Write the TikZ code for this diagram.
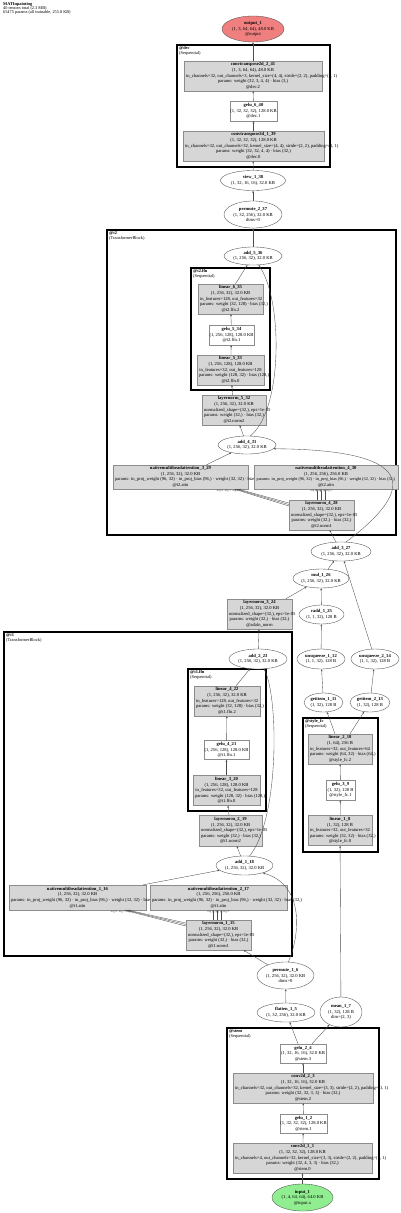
\documentclass[tikz,border=0pt]{standalone}
\usepackage{fontspec}
\setmainfont{Liberation Serif}
\usetikzlibrary{shapes.geometric,arrows.meta,calc}
\definecolor{coral}{HTML}{F08080}
\definecolor{lgreen}{HTML}{90EE90}
\definecolor{boxgray}{HTML}{D6D6D6}
\definecolor{bord}{HTML}{8C8C8C}
\definecolor{edgec}{HTML}{4D4D4D}
\newsavebox\ovbox
\def\curbw{100}
\newcommand\ov[1]{\sbox\ovbox{#1}\ifdim\wd\ovbox>\dimexpr\curbw pt-4pt\relax\makebox[\dimexpr\curbw pt-4pt\relax][l]{\usebox\ovbox}\else\usebox\ovbox\fi}
\newcommand\nd[7]{\def\curbw{#5}\node[#2,minimum width=#5pt,minimum height=#6pt] (#1) at (#3,#4) {};\node[lbl] (#1-t) at (#1.center) {#7};}
\newcommand\cl[7]{\node[clus,minimum width={#4pt-#2pt},minimum height={#5pt-#3pt}] (#1) at ({(#2+#4)/2},{(#3+#5)/2}) {};\node[clab] (#1-l) at ({#2+2},{#3+1.5}) {\textbf{#6}\\(#7)};}
\tikzset{
  lbl/.style={align=center,inner sep=0,font=\fontsize{4.6}{5.6}\selectfont},
  ell/.style={ellipse,draw=edgec,line width=0.35pt,fill=white,inner sep=0},
  gbox/.style={rectangle,draw=bord,line width=0.4pt,fill=boxgray,inner sep=0},
  wbox/.style={rectangle,draw=bord,line width=0.4pt,fill=white,inner sep=0},
  clus/.style={rectangle,draw=black,line width=1.3pt,fill=white,inner sep=0},
  clab/.style={anchor=north west,align=left,inner sep=0,font=\fontsize{4.4}{4.9}\selectfont},
  edge/.style={draw=edgec,line width=0.35pt,-{Stealth[length=2.2pt,width=1.8pt]}},
  elab/.style={inner sep=0,font=\fontsize{3}{3}\selectfont,text=edgec},
}
\begin{document}
\begin{tikzpicture}[x=1pt,y=-1pt]
\useasboundingbox (0,0) rectangle (400,1213);
\node[anchor=north west,align=left,inner sep=0,font=\fontsize{4.3}{4.4}\selectfont] (hdr) at (3,2) {\textbf{MATInpainting}\\40 tensors total (2.3 MB)\\65475 params (all trainable, 255.8 KB)};
% clusters
\cl{dec}{177}{45}{330}{167}{@dec}{Sequential}
\cl{t2}{107}{230}{396}{535}{@t2}{TransformerBlock}
\cl{t2ffn}{191}{268}{270}{390}{@t2.ffn}{Sequential}
\cl{t1}{4}{632}{292}{956}{@t1}{TransformerBlock}
\cl{t1ffn}{188}{669}{266}{811}{@t1.ffn}{Sequential}
\cl{sty}{303}{718}{378}{852}{@style\_fc}{Sequential}
\cl{stem}{227}{1028}{379}{1179}{@stem}{Sequential}
% nodes
\nd{out}{ell,fill=coral}{253}{29}{62}{26}{\textbf{output\_1}\\(1, 3, 64, 64), 48.0 KB\\@output}
\nd{conv41}{gbox}{253}{76}{138}{30}{\textbf{convtranspose2d\_2\_41}\\(1, 3, 64, 64), 48.0 KB\\\ov{in\_channels=32, out\_channels=3, kernel\_size=(4, 4), stride=(2, 2), padding=(1, 1)}\\params: weight (32, 3, 4, 4) · bias (3,)\\@dec.2}
\nd{gelu40}{wbox}{253.5}{111}{47}{20}{\textbf{gelu\_6\_40}\\(1, 32, 32, 32), 128.0 KB\\@dec.1}
\nd{conv39}{gbox}{253.5}{146}{141}{30}{\textbf{convtranspose2d\_1\_39}\\(1, 32, 32, 32), 128.0 KB\\\ov{in\_channels=32, out\_channels=32, kernel\_size=(4, 4), stride=(2, 2), padding=(1, 1)}\\params: weight (32, 32, 4, 4) · bias (32,)\\@dec.0}
\nd{view}{ell}{253}{180.5}{65}{20}{\textbf{view\_1\_38}\\(1, 32, 16, 16), 32.0 KB}
\nd{perm37}{ell}{253}{214.5}{58}{27}{\textbf{permute\_2\_37}\\(1, 32, 256), 32.0 KB\\dims=0}
\nd{add36}{ell}{253}{256}{58}{18}{\textbf{add\_5\_36}\\(1, 256, 32), 32.0 KB}
\nd{lin635}{gbox}{230.5}{299}{65}{30}{\textbf{linear\_6\_35}\\(1, 256, 32), 32.0 KB\\\ov{in\_features=128, out\_features=32}\\\ov{params: weight (32, 128) · bias (32,)}\\@t2.ffn.2}
\nd{gelu534}{wbox}{231.5}{335}{45}{20}{\textbf{gelu\_5\_34}\\(1, 256, 128), 128.0 KB\\@t2.ffn.1}
\nd{lin533}{gbox}{230.5}{370}{67}{30}{\textbf{linear\_5\_33}\\(1, 256, 128), 128.0 KB\\\ov{in\_features=32, out\_features=128}\\\ov{params: weight (128, 32) · bias (128,)}\\@t2.ffn.0}
\nd{ln532}{gbox}{234}{410}{64}{30}{\textbf{layernorm\_5\_32}\\(1, 256, 32), 32.0 KB\\\ov{normalized\_shape=(32,), eps=1e-05}\\\ov{params: weight (32,) · bias (32,)}\\@t2.norm2}
\nd{add431}{ell}{247}{445}{58}{18}{\textbf{add\_4\_31}\\(1, 256, 32), 32.0 KB}
\nd{att329}{gbox}{180.5}{477}{135}{24}{\textbf{nativemultiheadattention\_3\_29}\\(1, 256, 32), 32.0 KB\\\ov{params: in\_proj\_weight (96, 32) · in\_proj\_bias (96,) · weight (32, 32) · bias (32,)}\\@t2.attn}
\nd{att430}{gbox}{326}{477}{144}{24}{\textbf{nativemultiheadattention\_4\_30}\\(1, 256, 256), 256.0 KB\\\ov{\fontsize{4.25}{5.6}\selectfont params: in\_proj\_weight (96, 32) · in\_proj\_bias (96,) · weight (32, 32) · bias (32,)}\\@t2.attn}
\nd{ln428}{gbox}{321.5}{515}{65}{30}{\textbf{layernorm\_4\_28}\\(1, 256, 32), 32.0 KB\\\ov{normalized\_shape=(32,), eps=1e-05}\\\ov{params: weight (32,) · bias (32,)}\\@t2.norm1}
\nd{add327}{ell}{341}{551.5}{60}{19}{\textbf{add\_3\_27}\\(1, 256, 32), 32.0 KB}
\nd{mul126}{ell}{321}{578.5}{56}{19}{\textbf{mul\_1\_26}\\(1, 256, 32), 32.0 KB}
\nd{ln324}{gbox}{259.5}{614}{65}{30}{\textbf{layernorm\_3\_24}\\(1, 256, 32), 32.0 KB\\\ov{normalized\_shape=(32,), eps=1e-05}\\\ov{params: weight (32,) · bias (32,)}\\@adaln\_norm}
\nd{radd}{ell}{321.5}{614.5}{45}{19}{\textbf{radd\_1\_25}\\(1, 1, 32), 128 B}
\nd{add223}{ell}{258}{659}{58}{20}{\textbf{add\_2\_23}\\(1, 256, 32), 32.0 KB}
\nd{uns112}{ell}{321}{659}{48}{20}{\textbf{unsqueeze\_1\_12}\\(1, 1, 32), 128 B}
\nd{uns214}{ell}{375}{659}{48}{20}{\textbf{unsqueeze\_2\_14}\\(1, 1, 32), 128 B}
\nd{gi111}{ell}{323.5}{702.5}{39}{19}{\textbf{getitem\_1\_11}\\(1, 32), 128 B}
\nd{gi213}{ell}{370}{702.5}{40}{19}{\textbf{getitem\_2\_13}\\(1, 32), 128 B}
\nd{lin422}{gbox}{227}{701}{66}{30}{\textbf{linear\_4\_22}\\(1, 256, 32), 32.0 KB\\\ov{in\_features=128, out\_features=32}\\\ov{params: weight (32, 128) · bias (32,)}\\@t1.ffn.2}
\nd{gelu421}{wbox}{226.5}{750}{45}{19}{\textbf{gelu\_4\_21}\\(1, 256, 128), 128.0 KB\\@t1.ffn.1}
\nd{lin320}{gbox}{226.5}{790.5}{67}{30}{\textbf{linear\_3\_20}\\(1, 256, 128), 128.0 KB\\\ov{in\_features=32, out\_features=128}\\\ov{params: weight (128, 32) · bias (128,)}\\@t1.ffn.0}
\nd{ln219}{gbox}{230.5}{830.5}{63}{31}{\textbf{layernorm\_2\_19}\\(1, 256, 32), 32.0 KB\\\ov{normalized\_shape=(32,), eps=1e-05}\\\ov{params: weight (32,) · bias (32,)}\\@t1.norm2}
\nd{lin210}{gbox}{340}{749}{64}{30}{\textbf{linear\_2\_10}\\(1, 64), 256 B\\\ov{in\_features=32, out\_features=64}\\\ov{params: weight (64, 32) · bias (64,)}\\@style\_fc.2}
\nd{gelu39}{wbox}{340.5}{790}{29}{20}{\textbf{gelu\_3\_9}\\(1, 32), 128 B\\@style\_fc.1}
\nd{lin18}{gbox}{340}{830.5}{64}{30}{\textbf{linear\_1\_8}\\(1, 32), 128 B\\\ov{in\_features=32, out\_features=32}\\\ov{params: weight (32, 32) · bias (32,)}\\@style\_fc.0}
\nd{add118}{ell}{244.5}{865.5}{57}{19}{\textbf{add\_1\_18}\\(1, 256, 32), 32.0 KB}
\nd{att116}{gbox}{77.5}{897.5}{137}{25}{\textbf{nativemultiheadattention\_1\_16}\\(1, 256, 32), 32.0 KB\\\ov{params: in\_proj\_weight (96, 32) · in\_proj\_bias (96,) · weight (32, 32) · bias (32,)}\\@t1.attn}
\nd{att217}{gbox}{218.5}{897.5}{137}{25}{\textbf{nativemultiheadattention\_2\_17}\\(1, 256, 256), 256.0 KB\\\ov{params: in\_proj\_weight (96, 32) · in\_proj\_bias (96,) · weight (32, 32) · bias (32,)}\\@t1.attn}
\nd{ln115}{gbox}{218.5}{935}{65}{30}{\textbf{layernorm\_1\_15}\\(1, 256, 32), 32.0 KB\\\ov{normalized\_shape=(32,), eps=1e-05}\\\ov{params: weight (32,) · bias (32,)}\\@t1.norm1}
\nd{perm16}{ell}{285.5}{975.5}{57}{27}{\textbf{permute\_1\_6}\\(1, 256, 32), 32.0 KB\\dims=0}
\nd{flat15}{ell}{286}{1012.5}{58}{19}{\textbf{flatten\_1\_5}\\(1, 32, 256), 32.0 KB}
\nd{mean17}{ell}{341}{1012}{42}{30}{\textbf{mean\_1\_7}\\(1, 32), 128 B\\dim=(2, 3)}
\nd{gelu24}{wbox}{303}{1053.5}{46}{19}{\textbf{gelu\_2\_4}\\(1, 32, 16, 16), 32.0 KB\\@stem.3}
\nd{conv23}{gbox}{303}{1088}{140}{30}{\textbf{conv2d\_2\_3}\\(1, 32, 16, 16), 32.0 KB\\\ov{in\_channels=32, out\_channels=32, kernel\_size=(3, 3), stride=(2, 2), padding=(1, 1)}\\params: weight (32, 32, 3, 3) · bias (32,)\\@stem.2}
\nd{gelu12}{wbox}{303.5}{1123.5}{47}{19}{\textbf{gelu\_1\_2}\\(1, 32, 32, 32), 128.0 KB\\@stem.1}
\nd{conv11}{gbox}{302.5}{1158}{139}{30}{\textbf{conv2d\_1\_1}\\(1, 32, 32, 32), 128.0 KB\\\ov{in\_channels=4, out\_channels=32, kernel\_size=(3, 3), stride=(2, 2), padding=(1, 1)}\\params: weight (32, 4, 3, 3) · bias (32,)\\@stem.0}
\nd{inp}{ell,fill=lgreen}{302.5}{1197.5}{61}{27}{\textbf{input\_1}\\(1, 4, 64, 64), 64.0 KB\\@input.x}
% edges
\draw[edge] (conv41) -- (out);
\draw[edge] (gelu40) -- (conv41);
\draw[edge] (conv39) -- (gelu40);
\draw[edge] (view) -- (conv39);
\draw[edge] (perm37) -- (view);
\draw[edge] (add36) -- (perm37);
\draw[edge] ($(lin635.north)+(5,0)$) -- (add36);
\draw[edge] (add431.70) .. controls (283,410) and (283,300) .. (add36.-58);
\draw[edge] (gelu534) -- (lin635);
\draw[edge] (lin533) -- (gelu534);
\draw[edge] (ln532) -- (lin533);
\draw[edge] (add431) -- (ln532);
\draw[edge] ($(att329.north)+(26,0)$) -- (add431);
\draw[edge] (add327.62) .. controls (395,505) and (445,450) .. (add431.-8);
\draw[edge] (add327) -- (ln428);
\foreach \o/\t in {-9/54,-10.5/56,-12/58}{\draw[edge] ($(ln428.west)+(0,\o)$) -- ($(att329.south)+(\t,0)$);}
\node[elab,anchor=north] (l329a) at (220,489.6) {arg 0};
\node[elab,anchor=north] (l329b) at (227.8,489.6) {arg 1};
\node[elab,anchor=north] (l329c) at (235.6,489.6) {arg 2};
\coordinate (qa) at ($(ln428.north)+(-4.5,0)$);
\coordinate (qb) at ($(ln428.north)+(-0.5,0)$);
\coordinate (qc) at ($(ln428.north)+(3.5,0)$);
\foreach \q in {qa,qb,qc}{\draw[edge] (\q) -- (\q |- att430.south);}
\node[elab,anchor=north] (l430a) at (313.5,489.6) {arg 0};
\node[elab,anchor=north] (l430b) at (321.3,489.6) {arg 1};
\node[elab,anchor=north] (l430c) at (329.1,489.6) {arg 2};
\draw[edge] (mul126) -- (add327);
\draw[edge] (ln324) -- (mul126);
\draw[edge] (radd) -- (mul126);
\draw[edge] (uns214) -- (add327);
\draw[edge] (uns112) -- (radd);
\draw[edge] (gi111) -- (uns112);
\draw[edge] (gi213) -- (uns214);
\draw[edge] ($(lin210.north)+(-5,0)$) -- (gi111);
\draw[edge] ($(lin210.north)+(10,0)$) -- (gi213);
\draw[edge] (gelu39) -- (lin210);
\draw[edge] (lin18) -- (gelu39);
\draw[edge] (mean17) -- (lin18);
\draw[edge] (add223) -- (ln324);
\draw[edge] ($(lin422.north)+(9,0)$) -- (add223);
\draw[edge] (gelu421) -- (lin422);
\draw[edge] (lin320) -- (gelu421);
\draw[edge] (ln219) -- (lin320);
\draw[edge] (add118) -- (ln219);
\draw[edge] (add118.62) .. controls (279,820) and (279,700) .. (add223.-58);
\draw[edge] ($(att116.north east)+(-3,0)$) -- (add118);
\foreach \o/\t in {-9/47,-10.5/49,-12/51}{\draw[edge] ($(ln115.west)+(0,\o)$) -- ($(att116.south)+(\t,0)$);}
\node[elab,anchor=north] (l116a) at (114,910.6) {arg 0};
\node[elab,anchor=north] (l116b) at (121.8,910.6) {arg 1};
\node[elab,anchor=north] (l116c) at (129.6,910.6) {arg 2};
\coordinate (pa) at ($(ln115.north)+(-5,0)$);
\coordinate (pb) at ($(ln115.north)+(-1,0)$);
\coordinate (pc) at ($(ln115.north)+(3,0)$);
\foreach \q in {pa,pb,pc}{\draw[edge] (\q) -- (\q |- att217.south);}
\node[elab,anchor=north] (l217a) at (210.5,910.6) {arg 0};
\node[elab,anchor=north] (l217b) at (218.3,910.6) {arg 1};
\node[elab,anchor=north] (l217c) at (226.1,910.6) {arg 2};
\draw[edge] (perm16) -- (ln115);
\draw[edge] (perm16.78) .. controls (300,935) and (305,885) .. (add118.-22);
\draw[edge] (flat15) -- (perm16);
\draw[edge] ($(gelu24.north)+(-5,0)$) -- (flat15);
\draw[edge] ($(gelu24.north)+(9,0)$) -- (mean17);
\draw[edge] (conv23) -- (gelu24);
\draw[edge] (gelu12) -- (conv23);
\draw[edge] (conv11) -- (gelu12);
\draw[edge] (inp) -- (conv11);
\end{tikzpicture}
\end{document}
